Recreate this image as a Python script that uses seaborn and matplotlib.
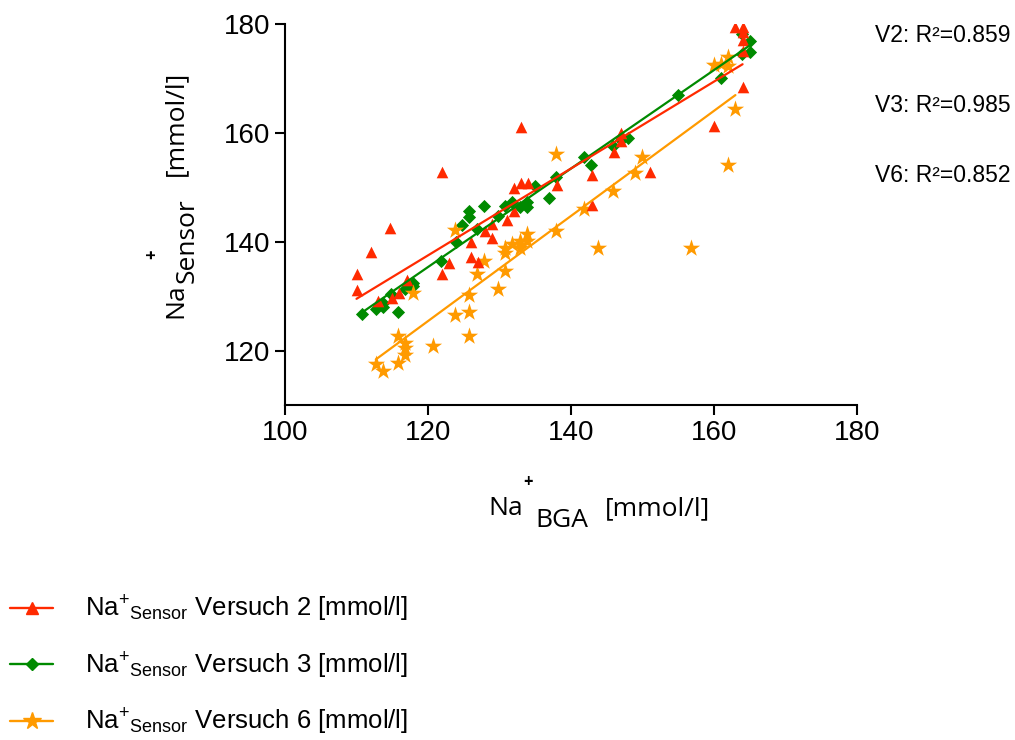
import numpy as np
import pandas as pd
import matplotlib
matplotlib.use("Agg")
import matplotlib.pyplot as plt
from matplotlib.lines import Line2D
import seaborn as sns

# ---- data ----
v2_x = [110, 110, 112, 113, 115, 114.7, 116, 117, 122, 122, 123, 126, 126, 127, 128, 129, 129,
        131, 132, 132, 133, 134, 133, 138, 143, 143, 146, 147, 147, 151, 160, 163, 164, 164,
        164, 164, 164]
v2_y = [134, 131.2, 138.2, 129.1, 129.6, 142.5, 130.5, 133, 152.8, 134, 136, 140, 137.2, 136.2,
        142, 140.6, 143.3, 144, 145.7, 149.8, 150.7, 150.7, 161, 150.4, 152.2, 146.7, 156.4,
        158.5, 160, 152.8, 161.2, 179.5, 179.5, 178.5, 177, 175, 168.4]

v3_x = [110.7, 112.7, 113.7, 113.7, 114.8, 115.8, 116.8, 117.9, 117.9, 121.8, 123.9, 124.7,
        125.7, 125.7, 126.8, 127.8, 129.8, 130.8, 131.8, 132.9, 133.8, 133.8, 134.9, 136.9,
        137.9, 141.8, 142.8, 145.9, 147, 148, 154.9, 161, 163.9, 163.9, 165, 165]
v3_y = [126.7, 127.6, 128, 128.8, 130.4, 127.1, 131.3, 132.5, 131.9, 136.4, 139.9, 143,
        144.5, 145.7, 142.4, 146.5, 144.8, 146.5, 147.3, 146.4, 147.3, 146.4, 150.2, 148.1,
        151.8, 155.6, 154.1, 157.5, 158.7, 159.1, 167, 170, 174.4, 178.1, 176.8, 174.9]

v6_x = [112.7, 113.7, 115.8, 115.8, 116.8, 116.8, 116.8, 117.9, 120.7, 123.8, 123.8, 125.7,
        125.7, 125.7, 126.8, 127.8, 129.8, 130.8, 130.8, 130.8, 131.8, 132.9, 132.9, 133.8,
        133.8, 137.9, 137.9, 141.8, 143.8, 145.9, 149, 149.9, 156.8, 160, 161, 162, 162, 162,
        163]
v6_y = [117.6, 116.2, 117.8, 122.6, 121.4, 120.4, 119.2, 130.5, 120.8, 126.5, 142.2, 127.1,
        122.6, 130.3, 134.1, 136.5, 131.3, 134.6, 138.9, 138, 139.6, 140.2, 138.9, 141.5,
        140.2, 142, 156.2, 146.1, 138.9, 149.4, 152.6, 155.6, 138.9, 172.5, 172.6, 174, 172.3,
        154.1, 164.3]

series_labels = [r"Na$^{+}$$_{\mathrm{Sensor}}$ Versuch 2 [mmol/l]",
                 r"Na$^{+}$$_{\mathrm{Sensor}}$ Versuch 3 [mmol/l]",
                 r"Na$^{+}$$_{\mathrm{Sensor}}$ Versuch 6 [mmol/l]"]
r2_labels = ["V2: R²=0.859", "V3: R²=0.985", "V6: R²=0.852"]
x_ticks = [100, 120, 140, 160, 180]
y_ticks = [120, 140, 160, 180]
xlabel_parts = ["Na", "+", "BGA", "[mmol/l]"]
ylabel_parts = ["Na", "+", "Sensor", "[mmol/l]"]

# ---- style ----
sns.set_style("ticks")
plt.rcParams["font.family"] = ["Liberation Sans", "DejaVu Sans"]
plt.rcParams["text.color"] = "black"
plt.rcParams["axes.labelcolor"] = "black"
plt.rcParams["mathtext.fontset"] = "custom"
plt.rcParams["mathtext.rm"] = "Liberation Sans"
plt.rcParams["mathtext.it"] = "Liberation Sans:italic"
plt.rcParams["mathtext.bf"] = "Liberation Sans:bold"

RED, GREEN, ORANGE = "#FF2A00", "#008A00", "#FF9A00"

fig = plt.figure(figsize=(10.15, 7.4), dpi=100)
ax = fig.add_axes([0.2808, 0.4527, 0.5635, 0.5149])

specs = [
    (v3_x, v3_y, GREEN, "D", 45),
    (v6_x, v6_y, ORANGE, "*", 170),
    (v2_x, v2_y, RED, "^", 70),
]
for xs, ys, col, mk, s in specs:
    df = pd.DataFrame({"x": xs, "y": ys})
    sns.regplot(data=df, x="x", y="y", ax=ax, ci=None, color=col, marker=mk,
                scatter_kws={"s": s, "linewidths": 0, "alpha": 1},
                line_kws={"lw": 1.6})

ax.set_xlim(100, 180)
ax.set_ylim(110, 180)
ax.set_xticks(x_ticks)
ax.set_yticks(y_ticks)
ax.tick_params(labelsize=20, width=1.5, length=7, color="black", labelcolor="black")
for sp in ["left", "bottom"]:
    ax.spines[sp].set_linewidth(1.5)
    ax.spines[sp].set_color("black")
sns.despine(ax=ax)

# ---- axis labels (GraphPad-style composed sub/superscripts) ----
LAB_FONT = ["Open Sans", "DejaVu Sans"]
LS = 19
def ax_coords(px, py):
    return (px - 285) / 572, (405 - py) / 381

# x label
xl = ax.set_xlabel(xlabel_parts[0], fontsize=LS, family=LAB_FONT, color="black")
xl.set_ha("left"); xl.set_va("baseline")
ax.xaxis.set_label_coords(*ax_coords(488, 515))
ax.text(*ax_coords(528, 482), xlabel_parts[1], transform=ax.transAxes, fontsize=12,
        family=LAB_FONT, ha="center", va="center", fontweight="bold")
ax.text(*ax_coords(535, 527), xlabel_parts[2], transform=ax.transAxes, fontsize=LS,
        family=LAB_FONT, ha="left", va="baseline")
ax.text(*ax_coords(605, 515), xlabel_parts[3], transform=ax.transAxes, fontsize=LS,
        family=LAB_FONT, ha="left", va="baseline")

# y label (rotated)
yl = ax.set_ylabel(ylabel_parts[0], fontsize=LS, family=LAB_FONT, color="black")
yl.set_rotation_mode("anchor"); yl.set_ha("left"); yl.set_va("baseline")
ax.yaxis.set_label_coords(*ax_coords(182, 318))
ax.text(*ax_coords(152, 254), ylabel_parts[1], transform=ax.transAxes, fontsize=12,
        family=LAB_FONT, ha="center", va="center", rotation=90, fontweight="bold")
ax.text(*ax_coords(194, 283), ylabel_parts[2], transform=ax.transAxes, fontsize=LS,
        family=LAB_FONT, ha="left", va="baseline", rotation=90, rotation_mode="anchor")
ax.text(*ax_coords(182, 176), ylabel_parts[3], transform=ax.transAxes, fontsize=LS,
        family=LAB_FONT, ha="left", va="baseline", rotation=90, rotation_mode="anchor")

for i, t in enumerate(r2_labels):
    fig.text(875 / 1015, 1 - (35 + 70 * i) / 740, t, fontsize=16.5, ha="left", va="center")

handles = [Line2D([], [], color=RED, marker="^", markersize=9, lw=1.7),
           Line2D([], [], color=GREEN, marker="D", markersize=6.5, lw=1.7),
           Line2D([], [], color=ORANGE, marker="*", markersize=13, lw=1.7)]
fig.legend(handles, series_labels, loc="upper left", bbox_to_anchor=(0.0099, 1 - 594 / 740),
           frameon=False, fontsize=18.5, handlelength=1.67, handletextpad=1.25,
           labelspacing=1.02, borderpad=0, borderaxespad=0)

fig.savefig("out.png", dpi=100)
